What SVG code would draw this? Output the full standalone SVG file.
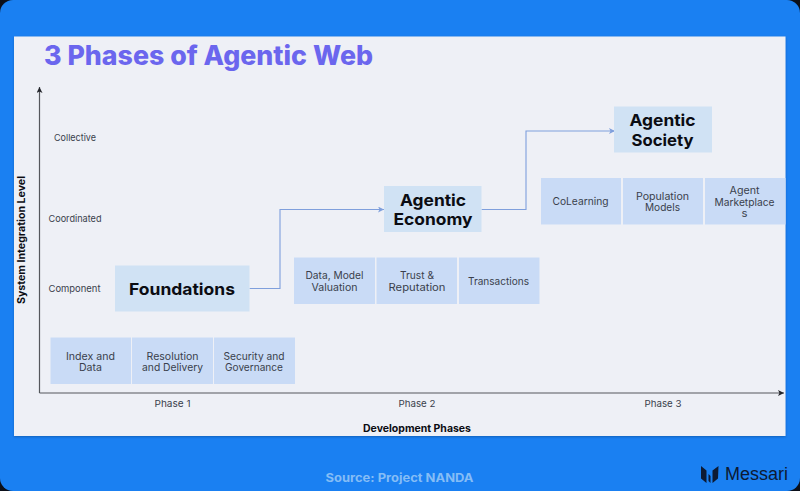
<svg xmlns="http://www.w3.org/2000/svg" width="800" height="491" viewBox="0 0 800 491">
<style>
text{font-family:"Inter","Liberation Sans",sans-serif;text-anchor:middle}
.sub{fill:#c9dbf6}
.head{fill:#d0e2f4}
.st{font-size:10.5px;fill:#3a3f4c}
.ax{font-size:9.5px;fill:#3a3f4c}
.h{font-size:16.5px;font-weight:700;fill:#0b0c12}
.b{font-size:10px;font-weight:700;fill:#0b0c12}
.axis{stroke:#55575c;stroke-width:1.2;fill:none}
.conn{stroke:#7f9fdc;stroke-width:1.1;fill:none}
</style>
<defs>
<marker id="ak" markerWidth="7" markerHeight="7" refX="6" refY="3" orient="auto" markerUnits="userSpaceOnUse"><path d="M0 0L6 3L0 6L1.5 3Z" fill="#23252b"/></marker>
<marker id="ab" markerWidth="7" markerHeight="7" refX="6" refY="3" orient="auto" markerUnits="userSpaceOnUse"><path d="M0 0L6 3L0 6L1.5 3Z" fill="#7f9fdc"/></marker>
<filter id="sh" x="-2%" y="-2%" width="104%" height="104%"><feDropShadow dx="0" dy="1" stdDeviation="1" flood-color="#0a2a55" flood-opacity=".35"/></filter>
</defs>
<rect width="800" height="491" fill="#0b0f1a"/>
<rect width="800" height="491" rx="13" fill="#1a80f2"/>
<rect x="14" y="36.500" width="771.500" height="399.500" fill="#eef0f6" filter="url(#sh)"/>
<text x="208.500" y="65" font-size="26.500" font-weight="800" fill="#6b66ee" textLength="329" lengthAdjust="spacingAndGlyphs">3 Phases of Agentic Web</text>
<g id="axes">
<path class="axis" d="M39.500 393V87" marker-end="url(#ak)"/>
<path class="axis" d="M39.500 393H784" marker-end="url(#ak)"/>
<text class="b" transform="translate(24.500 240) rotate(-90)" textLength="128" lengthAdjust="spacingAndGlyphs">System Integration Level</text>
<text class="b" x="417" y="432" textLength="108" lengthAdjust="spacingAndGlyphs">Development Phases</text>
<text class="ax" x="75" y="141" textLength="42" lengthAdjust="spacingAndGlyphs">Collective</text>
<text class="ax" x="75" y="221.500" textLength="53" lengthAdjust="spacingAndGlyphs">Coordinated</text>
<text class="ax" x="74.500" y="292" textLength="52" lengthAdjust="spacingAndGlyphs">Component</text>
<text class="ax" x="172.500" y="407" textLength="36" lengthAdjust="spacingAndGlyphs">Phase 1</text>
<text class="ax" x="417" y="407" textLength="37" lengthAdjust="spacingAndGlyphs">Phase 2</text>
<text class="ax" x="663" y="407" textLength="37" lengthAdjust="spacingAndGlyphs">Phase 3</text>
</g>
<g id="connectors">
<path class="conn" d="M249.500 288.500H280V209.500H384" marker-end="url(#ab)"/>
<path class="conn" d="M481.500 209.500H526V131H615" marker-end="url(#ab)"/>
</g>
<g id="foundations"><rect class="head" x="115" y="265.500" width="134.500" height="46"/><text class="h" x="182" y="294.500" textLength="106" lengthAdjust="spacingAndGlyphs">Foundations</text></g>
<g id="agentic-economy"><rect class="head" x="384" y="186" width="97.500" height="46"/><text class="h" x="433" y="205.500" textLength="66" lengthAdjust="spacingAndGlyphs">Agentic</text><text class="h" x="433" y="225" textLength="79" lengthAdjust="spacingAndGlyphs">Economy</text></g>
<g id="agentic-society"><rect class="head" x="614" y="106.500" width="98" height="46"/><text class="h" x="662.500" y="126" textLength="66" lengthAdjust="spacingAndGlyphs">Agentic</text><text class="h" x="662.500" y="145.500" textLength="62" lengthAdjust="spacingAndGlyphs">Society</text></g>
<g id="index-data"><rect class="sub" x="50.500" y="337.500" width="80.500" height="46.500"/><text class="st" x="90.500" y="359.500" textLength="49" lengthAdjust="spacingAndGlyphs">Index and</text><text class="st" x="90.500" y="371" textLength="23" lengthAdjust="spacingAndGlyphs">Data</text></g>
<g id="resolution-delivery"><rect class="sub" x="132" y="337.500" width="81" height="46.500"/><text class="st" x="172.500" y="359.500" textLength="52" lengthAdjust="spacingAndGlyphs">Resolution</text><text class="st" x="172.500" y="371" textLength="61" lengthAdjust="spacingAndGlyphs">and Delivery</text></g>
<g id="security-governance"><rect class="sub" x="214" y="337.500" width="81" height="46.500"/><text class="st" x="254" y="359.500" textLength="61" lengthAdjust="spacingAndGlyphs">Security and</text><text class="st" x="254" y="371" textLength="58" lengthAdjust="spacingAndGlyphs">Governance</text></g>
<g id="data-model"><rect class="sub" x="294" y="257.500" width="81" height="46.500"/><text class="st" x="334.500" y="279" textLength="58" lengthAdjust="spacingAndGlyphs">Data, Model</text><text class="st" x="334.500" y="290.500" textLength="46" lengthAdjust="spacingAndGlyphs">Valuation</text></g>
<g id="trust-reputation"><rect class="sub" x="376.500" y="257.500" width="80.500" height="46.500"/><text class="st" x="417" y="279" textLength="34" lengthAdjust="spacingAndGlyphs">Trust &amp;</text><text class="st" x="417" y="290.500" textLength="57" lengthAdjust="spacingAndGlyphs">Reputation</text></g>
<g id="transactions"><rect class="sub" x="459" y="257.500" width="80.500" height="46.500"/><text class="st" x="498.500" y="284.500" textLength="61" lengthAdjust="spacingAndGlyphs">Transactions</text></g>
<g id="colearning"><rect class="sub" x="541" y="178" width="80" height="46.500"/><text class="st" x="580.500" y="205" textLength="56" lengthAdjust="spacingAndGlyphs">CoLearning</text></g>
<g id="population-models"><rect class="sub" x="623" y="178" width="80" height="46.500"/><text class="st" x="662.500" y="199.500" textLength="53" lengthAdjust="spacingAndGlyphs">Population</text><text class="st" x="662.500" y="211" textLength="35" lengthAdjust="spacingAndGlyphs">Models</text></g>
<g id="agent-marketplaces"><rect class="sub" x="705" y="178" width="80.500" height="46.500"/><text class="st" x="744.500" y="194" textLength="30" lengthAdjust="spacingAndGlyphs">Agent</text><text class="st" x="744.500" y="205.500" textLength="60" lengthAdjust="spacingAndGlyphs">Marketplace</text><text class="st" x="744.500" y="217" textLength="6" lengthAdjust="spacingAndGlyphs">s</text></g>
<text x="399.500" y="481.500" font-size="11.500" font-weight="700" fill="#85bdf6" textLength="148" lengthAdjust="spacingAndGlyphs">Source: Project NANDA</text>
<g id="messari-logo">
<path d="M701 466L706.500 470.500V483L701 478.500ZM708.500 474L710.500 476V483L708.500 481ZM718.500 466L712.500 470.500V483L718 478.500Z" fill="#0d1a33"/>
<text x="756.500" y="480" font-size="17.500" fill="#0d1a33" textLength="63" lengthAdjust="spacingAndGlyphs" style="font-family:'Liberation Sans',sans-serif">Messari</text>
</g>
</svg>
